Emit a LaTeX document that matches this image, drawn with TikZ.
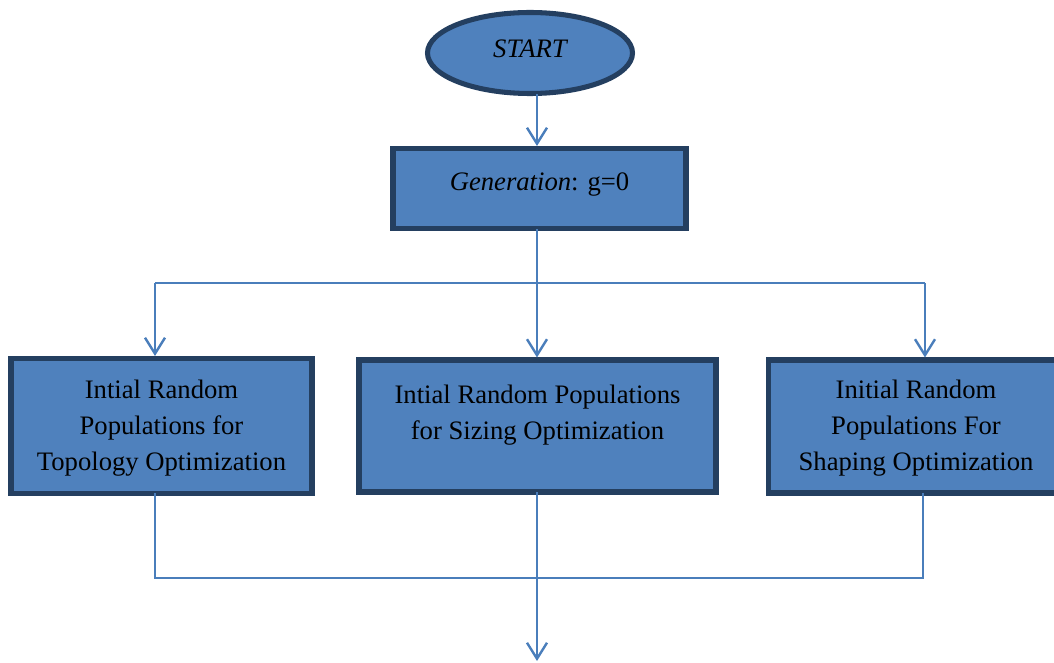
\documentclass[tikz,border=0pt]{standalone}
\usepackage{fontspec}
\setmainfont{Liberation Serif}
\usetikzlibrary{arrows.meta,shapes.geometric}
\definecolor{boxfill}{HTML}{4F81BD}
\definecolor{boxline}{HTML}{243F60}
\definecolor{conncol}{HTML}{4A7EBB}
\begin{document}
\begin{tikzpicture}[x=0.75pt,y=-0.75pt,
  shapebox/.style={draw=boxline,fill=boxfill,line width=3.8pt,inner sep=0pt},
  txt/.style={font=\fontsize{20pt}{27pt}\selectfont,align=center,inner sep=0pt},
  conn/.style={draw=conncol,line width=1.8pt},
  arr/.style={conn,-{Straight Barb[length=12pt,width=15pt,line width=1.8pt]}}]
\useasboundingbox (0,0) rectangle (1054,663);
\clip (0,0) rectangle (1054,663);
% shapes (sizes in px, converted to pt)
\node[shapebox,ellipse,minimum width=0.75*205pt,minimum height=0.75*81pt] (start) at (530,53) {};
\node[txt,font=\fontsize{20pt}{27pt}\selectfont\itshape] (starttxt) at (530,49) {START};
\node[shapebox,minimum width=0.75*293pt,minimum height=0.75*80pt] (gen) at (539.5,188.5) {};
\node[txt] (gentxt) at (539.5,185) {\textit{Generation}: g=0};
\node[shapebox,minimum width=0.75*301pt,minimum height=0.75*135pt] (left) at (161.5,426) {};
\node[txt] (lefttxt) at (161.5,428) {Intial Random\\Populations for\\Topology Optimization};
\node[shapebox,minimum width=0.75*357pt,minimum height=0.75*132pt] (mid) at (537.5,426) {};
\node[txt] (midtxt) at (537.5,415) {Intial Random Populations\\for Sizing Optimization};
\node[shapebox,minimum width=0.75*295pt,minimum height=0.75*133pt] (right) at (916,426.5) {};
\node[txt] (righttxt) at (916,428) {Initial Random\\Populations For\\Shaping Optimization};
% connector coordinates
\coordinate (sb) at (537,94);
\coordinate (gb) at (537,229);
\coordinate (br) at (537,283);
\coordinate (bl) at (155,283);
\coordinate (brr) at (925,283);
\coordinate (lb) at (155,493);
\coordinate (rb) at (923,493);
\coordinate (mb) at (537,492);
\coordinate (jl) at (155,578);
\coordinate (jr) at (923,578);
\coordinate (endpt) at (537,661);
% connectors
\draw[arr] (sb) -- (sb |- gen.north);
\draw[arr] (gb) -- (gb |- mid.north);
\draw[conn] (bl) -- (brr);
\draw[arr] (bl) -- (bl |- left.north);
\draw[arr] (brr) -- (brr |- right.north);
\draw[conn] (lb) -- (jl) -- (jr) -- (rb);
\draw[arr] (mb) -- (endpt);
\end{tikzpicture}
\end{document}
